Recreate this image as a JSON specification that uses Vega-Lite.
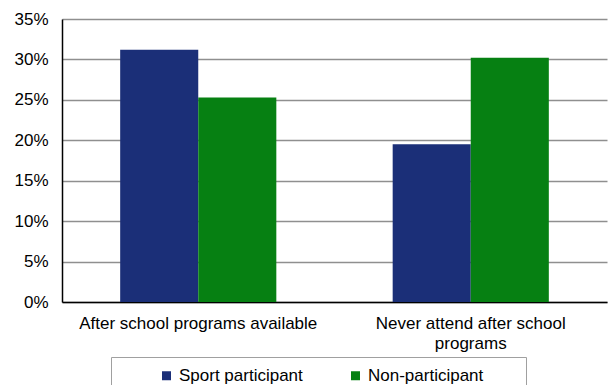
{
  "$schema": "https://vega.github.io/schema/vega-lite/v6.json",
  "width": 545,
  "height": 283,
  "autosize": {"type": "none"},
  "padding": {"left": 62, "top": 19, "right": 1, "bottom": 83},
  "background": "white",
  "data": {
    "values": [
      {"category": "After school programs  available", "group": "Sport participant", "value": 0.312},
      {"category": "After school programs  available", "group": "Non-participant", "value": 0.253},
      {"category": "Never attend after school programs", "group": "Sport participant", "value": 0.195},
      {"category": "Never attend after school programs", "group": "Non-participant", "value": 0.302}
    ]
  },
  "mark": {"type": "bar"},
  "encoding": {
    "x": {
      "field": "category",
      "type": "nominal",
      "sort": null,
      "scale": {"paddingInner": 0.427, "paddingOuter": 0.2135},
      "axis": {
        "title": null,
        "labelAngle": 0,
        "labelFont": "Liberation Sans",
        "labelFontSize": 17,
        "labelColor": "black",
        "labelPadding": 13,
        "labelLimit": 400,
        "labelLineHeight": 20,
        "ticks": false,
        "domainColor": "black",
        "domainWidth": 1.5,
        "labelExpr": "datum.label == 'Never attend after school programs' ? ['Never attend after school', 'programs'] : datum.label"
      }
    },
    "xOffset": {
      "field": "group",
      "type": "nominal",
      "sort": ["Sport participant", "Non-participant"],
      "scale": {"paddingInner": 0, "paddingOuter": 0}
    },
    "y": {
      "field": "value",
      "type": "quantitative",
      "scale": {"domain": [0, 0.35], "nice": false},
      "axis": {
        "title": null,
        "format": ".0%",
        "values": [0, 0.05, 0.1, 0.15, 0.2, 0.25, 0.3, 0.35],
        "labelFont": "Liberation Sans",
        "labelFontSize": 17,
        "labelColor": "black",
        "labelPadding": 14,
        "ticks": false,
        "domainColor": "black",
        "domainWidth": 1.5,
        "grid": true,
        "gridColor": "#8f8f8f",
        "gridWidth": 1.5
      }
    },
    "color": {
      "field": "group",
      "type": "nominal",
      "sort": ["Sport participant", "Non-participant"],
      "scale": {"domain": ["Sport participant", "Non-participant"], "range": ["#1b2f78", "#068012"]},
      "legend": {
        "orient": "none",
        "legendX": 49,
        "legendY": 338,
        "direction": "horizontal",
        "title": " ",
        "titleOrient": "right",
        "titlePadding": 33,
        "titleFontSize": 17,
        "symbolType": "square",
        "symbolSize": 81,
        "symbolStrokeWidth": 0,
        "symbolOffset": 37,
        "labelFont": "Liberation Sans",
        "labelFontSize": 17,
        "labelColor": "black",
        "labelOffset": 4,
        "columnPadding": 7,
        "padding": 10,
        "strokeColor": "#a0a0a0"
      }
    }
  },
  "config": {"view": {"stroke": null}}
}
